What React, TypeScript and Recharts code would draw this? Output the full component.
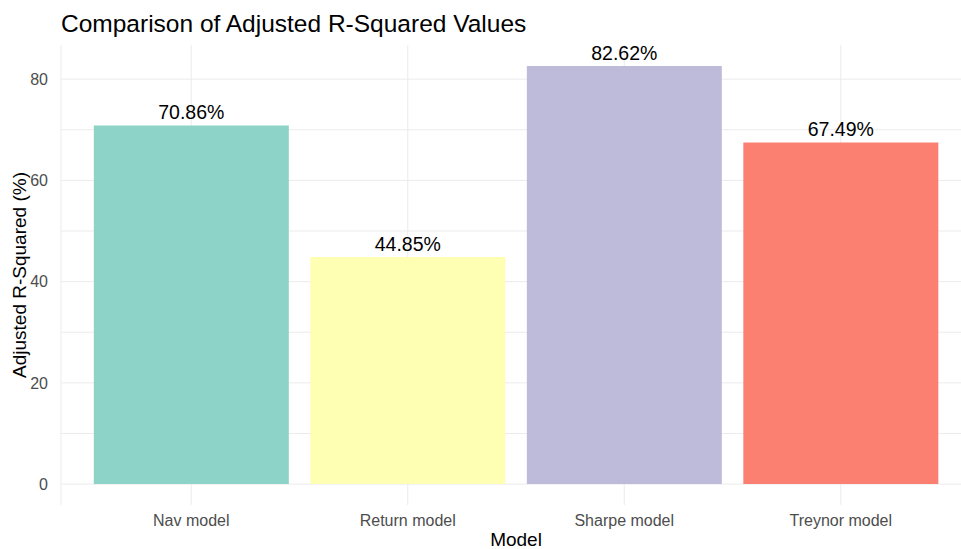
import { BarChart, Bar, XAxis, YAxis, CartesianGrid, Cell, LabelList } from "recharts";

const models = ["Nav model", "Return model", "Sharpe model", "Treynor model"];
const adjR2 = [70.86, 44.85, 82.62, 67.49];
const barColors = ["#8DD3C7", "#FFFFB3", "#BEBADA", "#FB8072"];
const yTicks = [0, 20, 40, 60, 80];
const gridValues = [0, 10, 20, 30, 40, 50, 60, 70, 80];

const data = models.map((model, i) => ({ model, value: adjR2[i] }));

// ggplot-style 5% expansion on the continuous axis
const maxVal = Math.max(...adjR2);
const yDomain = [-maxVal * 0.05, maxVal * 1.05];

const FONT = "'Liberation Sans', Arial, sans-serif";

function ValueLabel(props: any) {
  const { x, y, width, value } = props;
  return (
    <text
      x={x + width / 2}
      y={y - 6}
      textAnchor="middle"
      fontSize={19.5}
      fill="#000"
      fontFamily={FONT}
    >
      {`${Number(value).toFixed(2)}%`}
    </text>
  );
}

function YTitle(props: any) {
  const { viewBox } = props;
  const cx = viewBox.x + 26;
  const cy = viewBox.y + viewBox.height / 2;
  return (
    <text
      x={cx}
      y={cy}
      transform={`rotate(-90 ${cx} ${cy})`}
      textAnchor="middle"
      fontSize={19}
      fill="#000"
      fontFamily={FONT}
    >
      Adjusted R-Squared (%)
    </text>
  );
}

function XTitle(props: any) {
  const { viewBox } = props;
  return (
    <text
      x={viewBox.x + viewBox.width / 2}
      y={viewBox.y + viewBox.height - 3}
      textAnchor="middle"
      fontSize={19}
      fill="#000"
      fontFamily={FONT}
    >
      Model
    </text>
  );
}

export default function App() {
  return (
    <div
      style={{
        position: "fixed",
        left: 0,
        top: 0,
        width: 961,
        height: 549,
        overflow: "hidden",
        background: "#fff",
        fontFamily: FONT,
      }}
    >
      <div
        style={{
          position: "absolute",
          left: 61,
          top: 8,
          fontSize: 24.5,
          color: "#000",
          whiteSpace: "nowrap",
          lineHeight: "32px",
        }}
      >
        Comparison of Adjusted R-Squared Values
      </div>
      <BarChart
        width={975}
        height={549}
        data={data}
        margin={{ top: 45, right: 4, bottom: 0, left: 0 }}
        barCategoryGap="5%"
      >
        <CartesianGrid
          stroke="#EBEBEB"
          strokeWidth={1}
          horizontalValues={gridValues}
        />
        <XAxis
          dataKey="model"
          height={44}
          padding={{ left: 22, right: 22 }}
          axisLine={false}
          tickLine={false}
          tickSize={0}
          tickMargin={10}
          tick={{ fill: "#4D4D4D", fontSize: 16, fontFamily: FONT }}
          label={<XTitle />}
        />
        <YAxis
          type="number"
          width={61}
          domain={yDomain}
          ticks={yTicks}
          allowDataOverflow
          axisLine={false}
          tickLine={false}
          tickSize={0}
          tickMargin={13}
          tick={{ fill: "#4D4D4D", fontSize: 16, fontFamily: FONT }}
          label={<YTitle />}
        />
        <Bar dataKey="value" isAnimationActive={false}>
          {data.map((d, i) => (
            <Cell key={d.model} fill={barColors[i]} />
          ))}
          <LabelList dataKey="value" content={<ValueLabel />} />
        </Bar>
      </BarChart>
    </div>
  );
}
